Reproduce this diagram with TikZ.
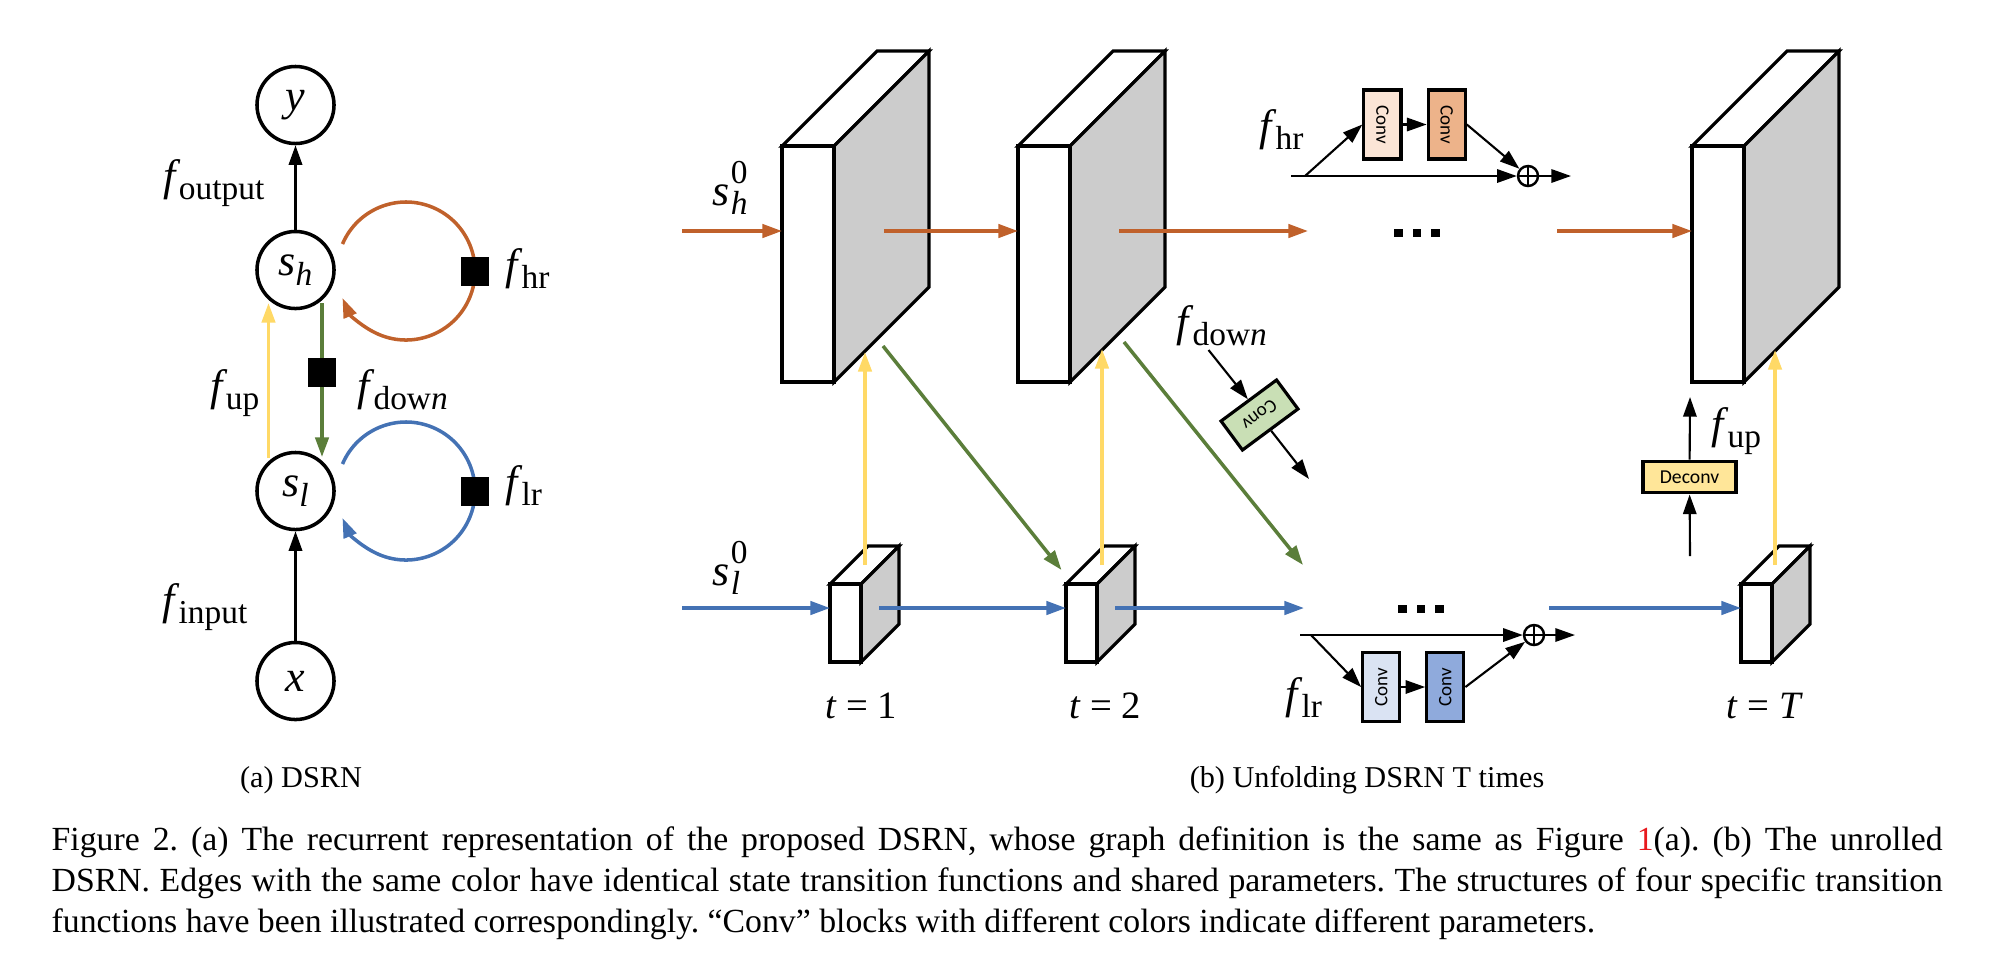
\documentclass[tikz,border=0pt]{standalone}
\usepackage{fontspec}
\setmainfont{Liberation Serif}
\newfontfamily\convfont{Carlito}
\usetikzlibrary{arrows.meta,calc}
\definecolor{cbrown}{HTML}{C0612B}
\definecolor{cblue}{HTML}{4472B4}
\definecolor{cgreen}{HTML}{5B7E3A}
\definecolor{cyellow}{HTML}{FFD966}
\definecolor{slabgray}{HTML}{CCCCCC}
\definecolor{peach}{HTML}{FBE5D6}
\definecolor{orng}{HTML}{EDB38A}
\definecolor{lblue}{HTML}{DAE3F3}
\definecolor{mblue}{HTML}{8FAADC}
\definecolor{lgreen}{HTML}{C9DFB5}
\definecolor{dyellow}{HTML}{FFE699}
\definecolor{refred}{HTML}{E8191D}
\frenchspacing
\newcommand\lowsub[1]{\raisebox{-0.22em}{\fontsize{9.5}{10}\selectfont #1}}
\newcommand\fsub[1]{\textit{f}\kern-0.4pt\lowsub{#1}}
\newcommand\sfull[2]{\textit{s}\kern0.3pt\rlap{\raisebox{0.5em}{\fontsize{9.5}{10}\selectfont #2}}\lowsub{\textit{#1}}}
\newcommand\slab[6]{%
  \filldraw[slabline,fill=white] (#2,#3) -- ++(#6,-#6) -- ++(#4,0) -- ++(-#6,#6) -- cycle;
  \filldraw[slabline,fill=slabgray] (#2+#4,#3) -- ++(#6,-#6) -- ++(0,#5) -- ++(-#6,#6) -- cycle;
  \node[slabline,draw,fill=white,anchor=north west,inner sep=0,outer sep=0,
        minimum width=#4*0.01cm,minimum height=#5*0.01cm] (#1) at (#2,#3) {};
}
\tikzset{
  slabline/.style={line width=0.9pt},
  lbl/.style={font=\fontsize{12.5}{14}\selectfont,inner sep=0},
  tlbl/.style={font=\fontsize{11}{13}\selectfont,inner sep=0},
  captext/.style={font=\fontsize{8.6}{11}\selectfont,inner sep=0},
  bigcap/.style={font=\fontsize{9.6}{11.6}\selectfont,inner sep=0},
  state/.style={circle,draw,line width=1pt,minimum size=0.77cm,inner sep=0,font=\fontsize{12.5}{14}\selectfont},
  sq/.style={fill=black,minimum width=0.28cm,minimum height=0.29cm,inner sep=0},
  karr/.style={->,line width=0.6pt},
  kaarr/.style={->,line width=0.75pt},
  brarr/.style={->,draw=cbrown,line width=1pt},
  blarr/.style={->,draw=cblue,line width=1pt},
  grarr/.style={->,draw=cgreen,line width=1pt},
  yearr/.style={->,draw=cyellow,line width=1pt},
  convv/.style={draw,line width=0.9pt,minimum width=0.37cm,minimum height=0.69cm,inner sep=0,font=\convfont\fontsize{5.4}{6}\selectfont},
  convr/.style={draw,line width=0.9pt,minimum width=0.69cm,minimum height=0.36cm,inner sep=0,font=\convfont\fontsize{5.4}{6}\selectfont},
  deconv/.style={draw,line width=0.9pt,minimum width=0.93cm,minimum height=0.317cm,inner sep=0,fill=dyellow,font=\convfont\fontsize{5.6}{6}\selectfont},
  plus/.style={circle,draw,line width=0.7pt,minimum size=0.2cm,inner sep=0,
    path picture={\draw[line width=0.6pt] (path picture bounding box.north) -- (path picture bounding box.south)
      (path picture bounding box.east) -- (path picture bounding box.west);}},
}
\begin{document}
\begin{tikzpicture}[x=0.01cm,y=-0.01cm,>={Triangle[length=5.6pt,width=3.8pt]}]
\useasboundingbox (0,0) rectangle (2004,960);

% ---------------- (a) ----------------
\node[state] (Y) at (295.5,105) {\textit{y}};
\node[state] (SH) at (295.5,270) {\textit{s}\lowsub{\textit{h}}};
\node[state] (SL) at (295.5,491) {\textit{s}\lowsub{\textit{l}}};
\node[state] (X) at (295.5,681) {\textit{x}};
\draw[kaarr] (SH) -- (Y);
\draw[kaarr] (X) -- (SL);
\coordinate (LC1) at (406,271);
\coordinate (LC2) at (406,491);
\draw[brarr] ($(LC1)+(-157:69)$) arc[start angle=-157,end angle=157,radius=69];
\draw[blarr] ($(LC2)+(-157:69)$) arc[start angle=-157,end angle=157,radius=69];
\node[sq] (Qhr) at ($(LC1)+(69,0)$) {};
\node[sq] (Qlr) at ($(LC2)+(69,0)$) {};
\draw[yearr] ($(SL.center)+(-27,-33)$) -- ($(SH.center)+(-27,33)$);
\draw[grarr] ($(SH.center)+(26.5,33)$) -- node[sq,pos=0.45] (Qdn) {} ($(SL.center)+(26.5,-34)$);
\node[lbl,anchor=base east] (Lout) at (265,190) {\fsub{output}};
\node[lbl,anchor=base east] (Lin) at (248,614) {\fsub{input}};
\node[lbl,anchor=base west] (Lhr) at (505,279) {\fsub{hr}};
\node[lbl,anchor=base west] (Llr) at (505,496) {\fsub{lr}};
\node[lbl,anchor=base east] (Lup) at (260,400) {\fsub{up}};
\node[lbl,anchor=base west] (Ldn) at (357,400) {\fsub{dow\textit{n}}};
\node[captext,anchor=base] (CapA) at (301,787) {(a) DSRN};

% ---------------- (b) ----------------
\slab{B1}{782}{146}{52}{236}{95}
\slab{B2}{1018}{146}{52}{236}{95}
\slab{BT}{1692}{146}{52}{236}{95}
\slab{S1}{830}{584}{31}{78}{38}
\slab{S2}{1066}{584}{31}{78}{38}
\slab{ST}{1741}{584}{31}{78}{38}

% brown (high-resolution) transitions
\coordinate (h0) at (682,231);
\coordinate (h1) at (884,231);
\coordinate (h2) at (1119,231);
\coordinate (h2e) at (1308,231);
\coordinate (h3) at (1557,231);
\draw[brarr] (h0) -- (h0 -| B1.west);
\draw[brarr] (h1) -- (h1 -| B2.west);
\draw[brarr] (h2) -- (h2e);
\draw[brarr] (h3) -- (h3 -| BT.west);

% blue (low-resolution) transitions
\coordinate (l0) at (682,608);
\coordinate (l1) at (879,608);
\coordinate (l2) at (1115,608);
\coordinate (l2e) at (1304,608);
\coordinate (l3) at (1549,608);
\draw[blarr] (l0) -- (l0 -| S1.west);
\draw[blarr] (l1) -- (l1 -| S2.west);
\draw[blarr] (l2) -- (l2e);
\draw[blarr] (l3) -- (l3 -| ST.west);

% yellow (up) transitions
\coordinate (u1) at (865,565);  \coordinate (u1e) at (865,352);
\coordinate (u2) at (1102,565); \coordinate (u2e) at (1102,349);
\coordinate (u3) at (1775,565); \coordinate (u3e) at (1775,350);
\draw[yearr] (u1) -- (u1e);
\draw[yearr] (u2) -- (u2e);
\draw[yearr] (u3) -- (u3e);

% green (down) transitions
\coordinate (d1) at (883,346);  \coordinate (d1e) at (1061.5,570);
\coordinate (d2) at (1124,342); \coordinate (d2e) at (1303,565);
\draw[grarr] (d1) -- (d1e);
\draw[grarr] (d2) -- (d2e);

% dots
\foreach \i in {0,1,2} {
  \fill (1394+18.5*\i,229) rectangle ++(8.5,8);
  \fill (1398+18.5*\i,605) rectangle ++(8.5,8);
}

% labels
\node[lbl,anchor=base west] (Lsh0) at (712,205) {\sfull{h}{0}};
\node[lbl,anchor=base west] (Lsl0) at (712,585) {\sfull{l}{0}};
\node[tlbl,anchor=base] (T1) at (861,718) {\textit{t} = 1};
\node[tlbl,anchor=base] (T2) at (1105,718) {\textit{t} = 2};
\node[tlbl,anchor=base] (TT) at (1765,718) {\textit{t} = \textit{T}};
\node[lbl,anchor=base west] (Lhr2) at (1259,140) {\fsub{hr}};
\node[lbl,anchor=base west] (Ldn2) at (1176,336) {\fsub{dow\textit{n}}};
\node[lbl,anchor=base west] (Llr2) at (1285,708) {\fsub{lr}};
\node[lbl,anchor=base west] (Lup2) at (1711,438) {\fsub{up}};

% f_hr module
\coordinate (hs) at (1291,176);
\coordinate (hb) at (1305,176);
\coordinate (ho) at (1571,176);
\node[plus] (P1) at (1528,176) {};
\node[convv,fill=peach] (C1) at (1382.4,124.5) {\rotatebox{-90}{Conv}};
\node[convv,fill=orng] (C2) at (1446.7,124.5) {\rotatebox{-90}{Conv}};
\draw[karr] (hs) -- (P1);
\draw[karr] (hb) -- (C1.west);
\draw[karr] (C1) -- (C2);
\draw[karr] (C2.east) -- (P1);
\draw[karr] (P1) -- (ho);

% f_lr module
\coordinate (ls) at (1300,635);
\coordinate (lb) at (1311,635);
\coordinate (lo) at (1575,635);
\node[plus] (P2) at (1534,635) {};
\node[convv,fill=lblue] (C3) at (1381.2,687) {\rotatebox{90}{Conv}};
\node[convv,fill=mblue] (C4) at (1445.3,687) {\rotatebox{90}{Conv}};
\draw[karr] (ls) -- (P2);
\draw[karr] (lb) -- (C3.west);
\draw[karr] (C3) -- (C4);
\draw[karr] (C4.east) -- (P2);
\draw[karr] (P2) -- (lo);

% f_down module
\node[convr,fill=lgreen,rotate=216.5] (Cd) at (1259.5,415) {Conv};
\coordinate (dns) at (1208.5,350);
\coordinate (dne) at (1309,479);
\draw[karr] (dns) -- (Cd.south);
\draw[karr] (Cd.north) -- (dne);

% f_up module
\node[deconv] (Dc) at (1689.5,477) {Deconv};
\coordinate (ups) at (1690,556);
\coordinate (upe) at (1690,397);
\draw[karr] (ups) -- (Dc);
\draw[karr] (Dc) -- (upe);

\node[captext,anchor=base] (CapB) at (1367,787) {(b) Unfolding DSRN T times};

% ---------------- caption ----------------
\node[bigcap,anchor=base west,text width=18.9cm,align=justify] (L1) at (51,850)
  {\noindent\parfillskip=0pt Figure 2. (a) The recurrent representation of the proposed DSRN, whose graph definition is the same as Figure \textcolor{refred}{1}(a). (b) The unrolled\par};
\node[bigcap,anchor=base west,text width=18.9cm,align=justify] (L2) at (51,891)
  {\noindent\parfillskip=0pt DSRN. Edges with the same color have identical state transition functions and shared parameters. The structures of four specific transition\par};
\node[bigcap,anchor=base west] (L3) at (51,932)
  {functions have been illustrated correspondingly. \char"201C Conv\char"201D{} blocks with different colors indicate different parameters.};
\end{tikzpicture}
\end{document}
